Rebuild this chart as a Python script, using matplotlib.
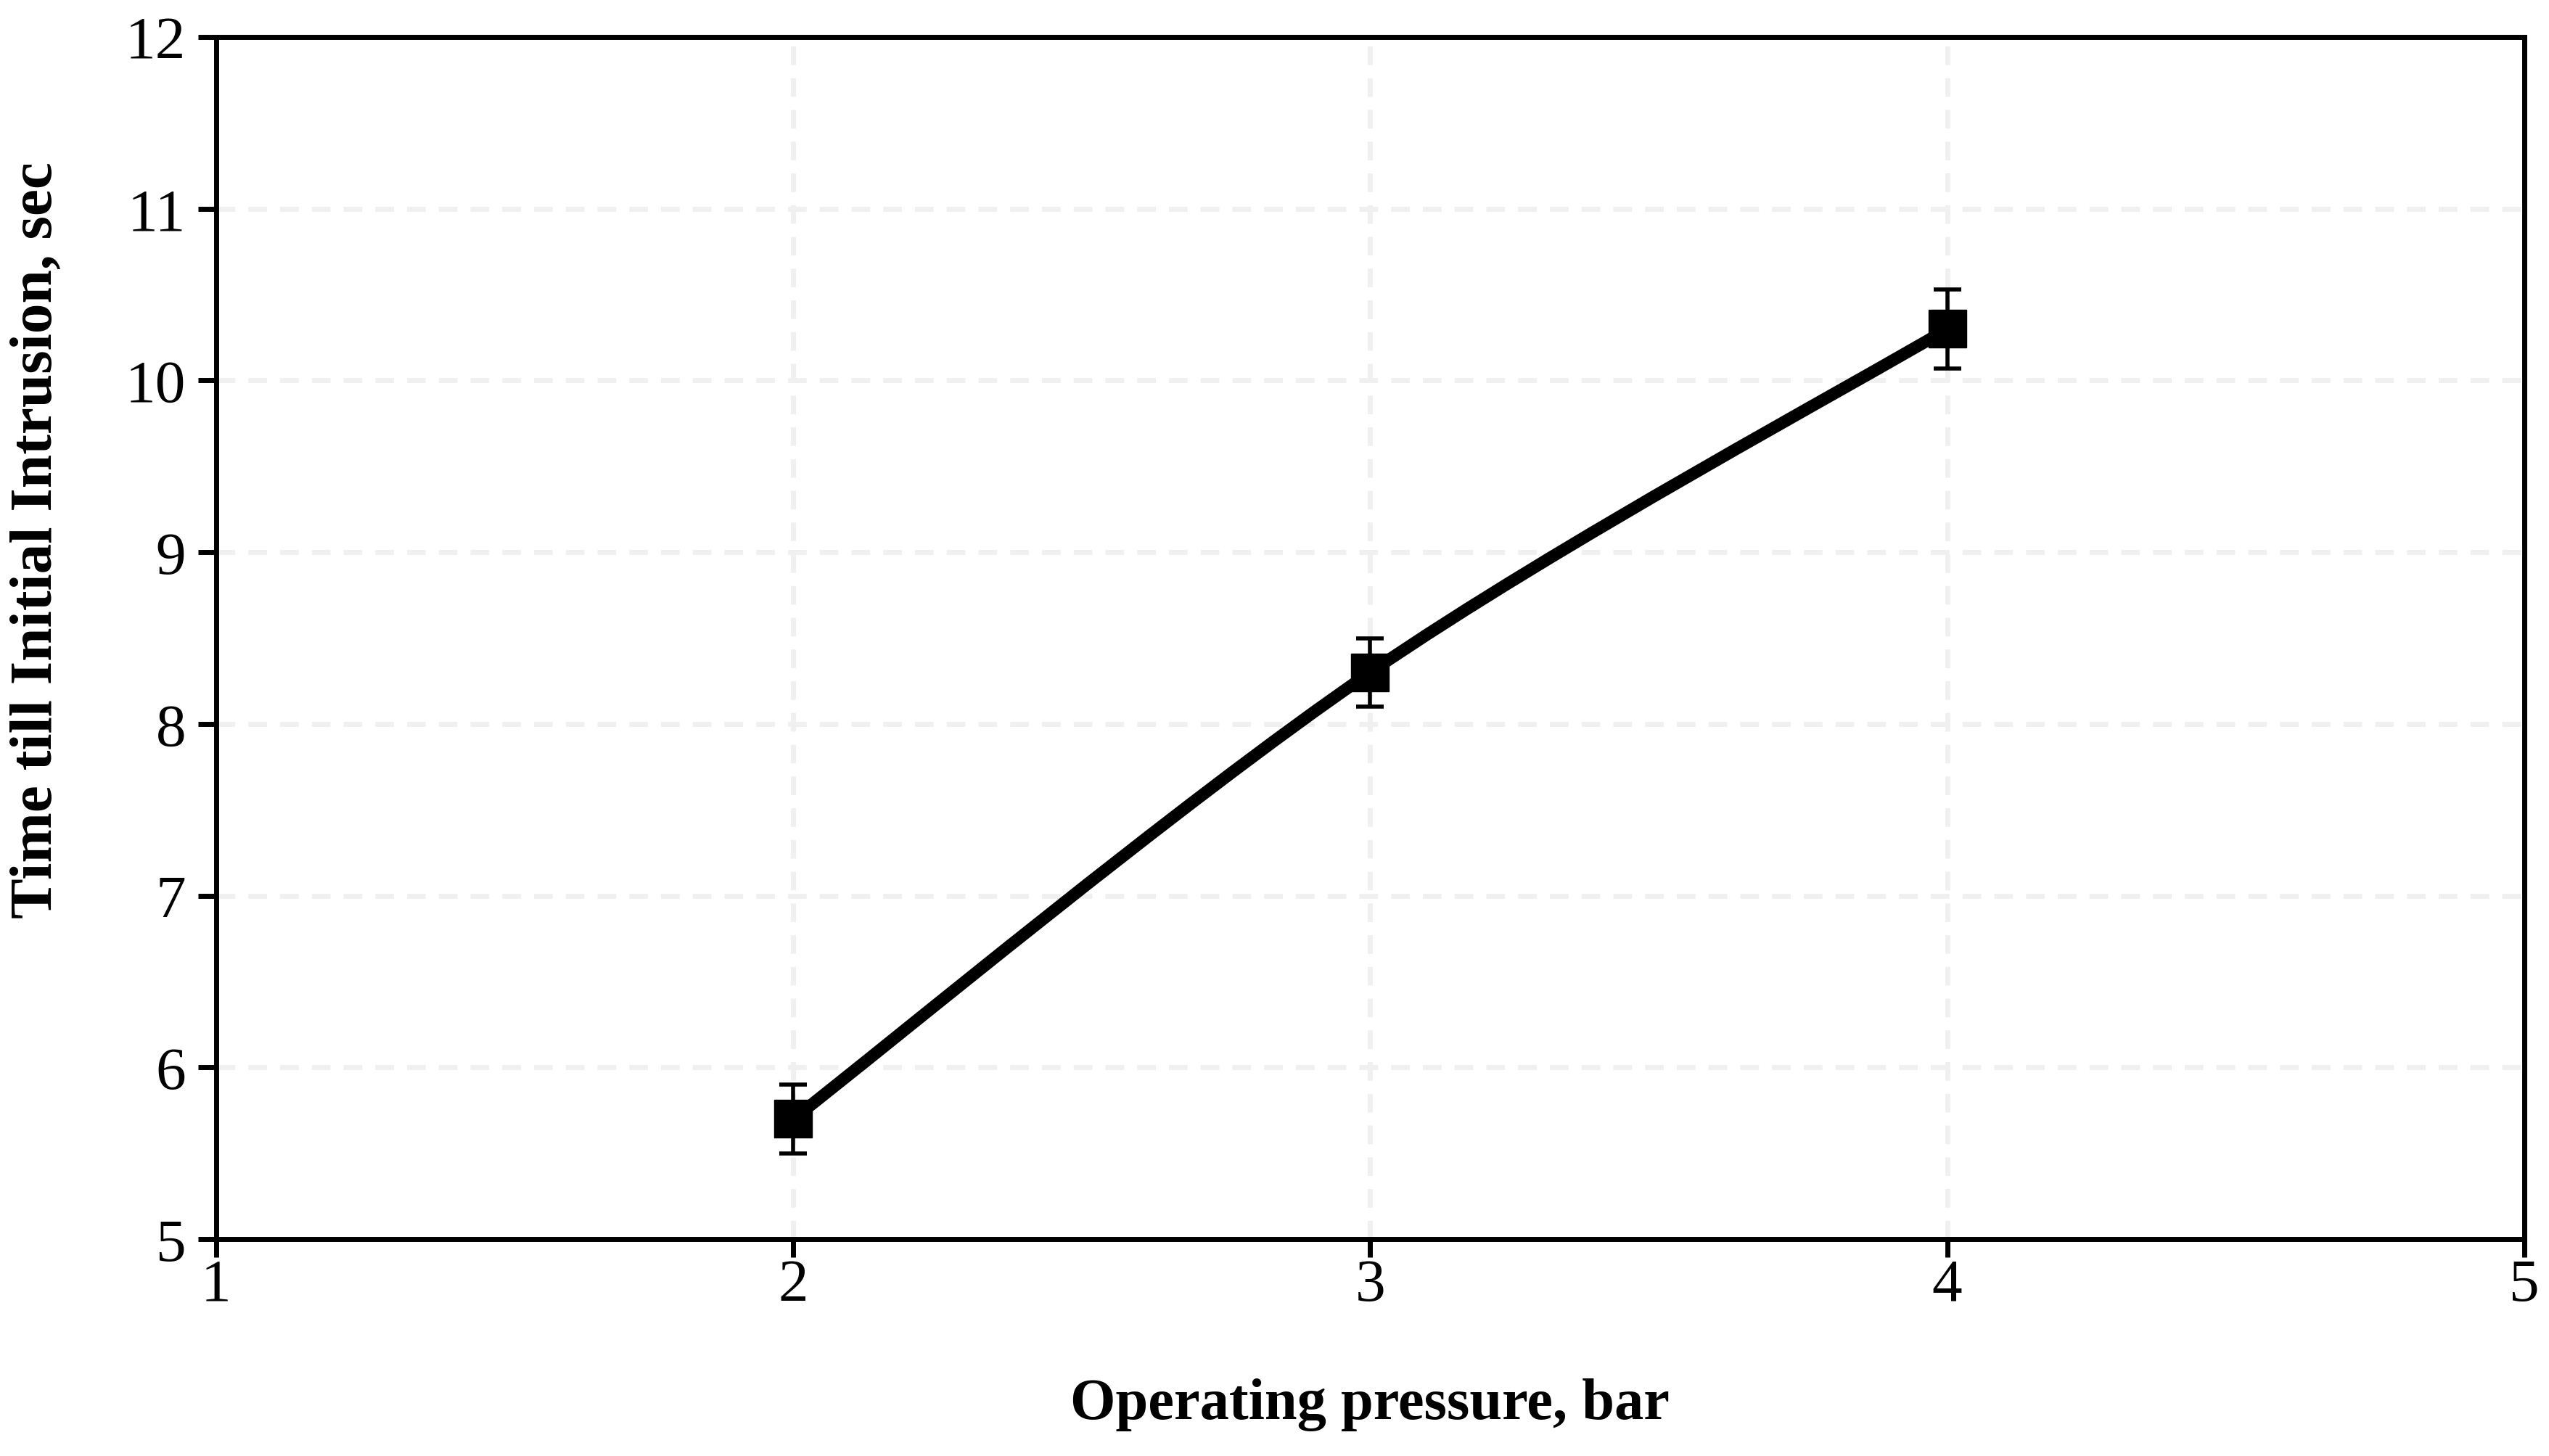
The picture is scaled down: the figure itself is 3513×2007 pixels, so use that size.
import numpy as np
import matplotlib.pyplot as plt
from matplotlib.path import Path
from matplotlib.patches import PathPatch

plt.rcParams['font.family'] = ['Liberation Serif', 'DejaVu Serif']

pressure = [2, 3, 4]
time_sec = [5.7, 8.3, 10.3]
err = [0.2, 0.2, 0.23]

x_ticks = [1, 2, 3, 4, 5]
y_ticks = [5, 6, 7, 8, 9, 10, 11, 12]


def smooth_path(xs, ys):
    # excel-style smoothed line (catmull-rom as bezier segments)
    pts = np.column_stack([xs, ys]).astype(float)
    n = len(pts)
    verts = [pts[0]]
    codes = [Path.MOVETO]
    for i in range(n - 1):
        p0 = pts[i - 1] if i > 0 else pts[i]
        p1 = pts[i]
        p2 = pts[i + 1]
        p3 = pts[i + 2] if i + 2 < n else pts[i + 1]
        c1 = p1 + (p2 - p0) / 6
        c2 = p2 - (p3 - p1) / 6
        verts += [c1, c2, p2]
        codes += [Path.CURVE4] * 3
    return Path(verts, codes)


fig = plt.figure(figsize=(35.13, 20.08), dpi=100)
ax = fig.add_axes([0.0848, 0.1489, 0.9055, 0.8252])

ax.add_patch(PathPatch(smooth_path(pressure, time_sec), fill=False,
                       edgecolor='black', lw=12, zorder=3, capstyle='round'))
ax.errorbar(pressure, time_sec, yerr=err, fmt='none', ecolor='black',
            elinewidth=4, capsize=14, capthick=4, zorder=4)
ax.plot(pressure, time_sec, linestyle='none', marker='s', ms=38,
        color='black', zorder=5)

ax.set_xlim(1, 5)
ax.set_ylim(5, 12)
ax.set_xticks(x_ticks)
ax.set_yticks(y_ticks)

ax.grid(True, color='#f0f0f0', lw=5, linestyle=(0, (3.7, 2.6)), zorder=0)
ax.set_axisbelow(True)

for s in ax.spines.values():
    s.set_linewidth(5)
ax.tick_params(direction='out', length=18, width=5, labelsize=60, pad=1)
ax.tick_params(axis='y', pad=12)

ax.set_xlabel('Operating pressure, bar', fontsize=58, fontweight='bold')
ax.set_ylabel('Time till Initial Intrusion, sec', fontsize=60, fontweight='bold')
ax.xaxis.set_label_coords(0.5, -0.115)
ax.yaxis.set_label_coords(-0.066, 0.582)

fig.savefig('out.png', dpi=100)
